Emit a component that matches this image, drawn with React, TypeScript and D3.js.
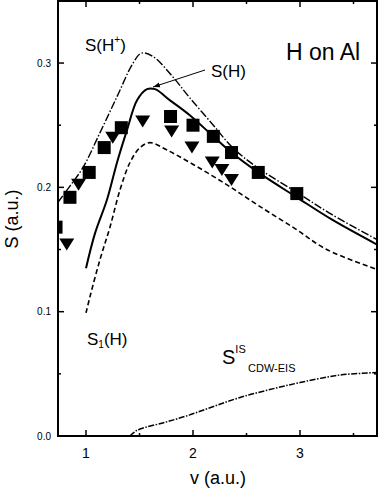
import React from "react";
import * as d3 from "d3";

// Curves (v in a.u., S in a.u.)
const sHplusV = [0.738, 0.85, 0.972, 1.131, 1.29, 1.44, 1.52, 1.63, 1.81, 1.97, 2.19, 2.37, 2.6, 2.97, 3.3, 3.72];
const sHplusS = [0.188, 0.201, 0.216, 0.244, 0.273, 0.3, 0.308, 0.305, 0.289, 0.272, 0.25, 0.232, 0.216, 0.196, 0.178, 0.158];

const sHV = [1.0, 1.084, 1.196, 1.29, 1.383, 1.477, 1.57, 1.645, 1.785, 1.97, 2.19, 2.36, 2.61, 2.97, 3.3, 3.72];
const sHS = [0.135, 0.163, 0.19, 0.22, 0.246, 0.27, 0.279, 0.279, 0.27, 0.258, 0.241, 0.228, 0.212, 0.192, 0.174, 0.154];

const s1V = [1.0, 1.037, 1.131, 1.224, 1.318, 1.411, 1.505, 1.598, 1.757, 1.97, 2.3, 2.6, 2.95, 3.25, 3.72];
const s1S = [0.099, 0.112, 0.142, 0.168, 0.198, 0.22, 0.232, 0.236, 0.23, 0.22, 0.203, 0.186, 0.167, 0.15, 0.134];

const sIsV = [1.411, 1.449, 1.505, 1.738, 1.97, 2.2, 2.44, 2.7, 3.0, 3.37, 3.72];
const sIsS = [0.0, 0.003, 0.0056, 0.011, 0.017, 0.024, 0.031, 0.037, 0.043, 0.049, 0.051];

// Experimental points
const squareV = [0.72, 0.85, 1.03, 1.17, 1.33, 1.79, 2.0, 2.19, 2.36, 2.61, 2.97];
const squareS = [0.168, 0.192, 0.212, 0.232, 0.248, 0.257, 0.25, 0.241, 0.228, 0.212, 0.195];

const triV = [0.82, 0.93, 1.25, 1.53, 1.8, 1.99, 2.18, 2.27, 2.36];
const triS = [0.154, 0.202, 0.24, 0.253, 0.245, 0.232, 0.22, 0.214, 0.206];

const xMajor = [1, 2, 3];
const xMinor = [1.5, 2.5, 3.5];
const yMajor = [0.0, 0.1, 0.2, 0.3];
const yMinor = [0.05, 0.15, 0.25];

const W = 380;
const H = 490;
const L = 58, R = 377, T = 1, B = 436;

export default function App() {
  const x = d3.scaleLinear().domain([0.7383, 3.7196]).range([L, R]);
  const y = d3.scaleLinear().domain([0, 0.3499]).range([B, T]);
  const line = d3
    .line<[number, number]>()
    .x((d) => x(d[0]))
    .y((d) => y(d[1]))
    .curve(d3.curveCatmullRom.alpha(0.5));
  const pts = (vs: number[], ss: number[]) => vs.map((v, i) => [v, ss[i]] as [number, number]);
  const font = "Liberation Sans, Arial, Helvetica, sans-serif";

  const sq = 13;
  const tw = 15, th = 12;

  return (
    <svg width={W} height={H} style={{ position: "absolute", left: 0, top: 0, background: "#fff" }} fontFamily={font}>
      <defs>
        <clipPath id="plot">
          <rect x={L} y={T} width={R - L} height={B - T} />
        </clipPath>
        <marker id="arr" viewBox="0 0 10 10" refX="10" refY="5" markerWidth="7" markerHeight="7" orient="auto">
          <path d="M0,1.5 L10,5 L0,8.5 z" fill="#000" />
        </marker>
      </defs>
      <rect x={0} y={0} width={W} height={H} fill="#fff" />
      <g clipPath="url(#plot)" fill="none" stroke="#000">
        <path d={line(pts(sHplusV, sHplusS)) || ""} strokeWidth={1.4} strokeDasharray="8,2,1.5,2" />
        <path d={line(pts(sHV, sHS)) || ""} strokeWidth={2} />
        <path d={line(pts(s1V, s1S)) || ""} strokeWidth={1.6} strokeDasharray="5,3" />
        <path d={line(pts(sIsV, sIsS)) || ""} strokeWidth={1.5} strokeDasharray="6,1.5,1.5,1.5" />
        {squareV.map((v, i) => (
          <rect key={"s" + i} x={x(v) - sq / 2} y={y(squareS[i]) - sq / 2} width={sq} height={sq} fill="#000" stroke="none" />
        ))}
        {triV.map((v, i) => {
          const cx = x(v), cy = y(triS[i]);
          return (
            <path key={"t" + i} d={`M${cx - tw / 2},${cy - th / 2} L${cx + tw / 2},${cy - th / 2} L${cx},${cy + th / 2} Z`} fill="#000" stroke="none" />
          );
        })}
      </g>
      {/* frame */}
      <rect x={L} y={T} width={R - L} height={B - T} fill="none" stroke="#000" strokeWidth={2} />
      {/* ticks */}
      <g stroke="#000" strokeWidth={1.5}>
        {xMajor.map((v) => (
          <g key={"xm" + v}>
            <line x1={x(v)} x2={x(v)} y1={B} y2={B - 6} />
            <line x1={x(v)} x2={x(v)} y1={T} y2={T + 6} />
          </g>
        ))}
        {xMinor.map((v) => (
          <g key={"xn" + v}>
            <line x1={x(v)} x2={x(v)} y1={B} y2={B - 3} />
            <line x1={x(v)} x2={x(v)} y1={T} y2={T + 3} />
          </g>
        ))}
        {yMajor.map((v) => (
          <g key={"ym" + v}>
            <line x1={L} x2={L + 6} y1={y(v)} y2={y(v)} />
            <line x1={R} x2={R - 6} y1={y(v)} y2={y(v)} />
          </g>
        ))}
        {yMinor.map((v) => (
          <g key={"yn" + v}>
            <line x1={L} x2={L + 3} y1={y(v)} y2={y(v)} />
            <line x1={R} x2={R - 3} y1={y(v)} y2={y(v)} />
          </g>
        ))}
      </g>
      {/* tick labels */}
      <g fontSize={10} textAnchor="end" fill="#000">
        {yMajor.map((v) => (
          <text key={"yl" + v} x={L - 7} y={y(v) + 3.5}>{d3.format(".1f")(v)}</text>
        ))}
      </g>
      <g fontSize={14} textAnchor="middle" fill="#000">
        {xMajor.map((v) => (
          <text key={"xl" + v} x={x(v)} y={B + 22}>{v}</text>
        ))}
      </g>
      {/* axis titles */}
      <text x={218} y={484} fontSize={18} textAnchor="middle">v (a.u.)</text>
      <text transform="translate(18,219) rotate(-90)" fontSize={18} textAnchor="middle">S (a.u.)</text>
      {/* annotations */}
      <text x={85} y={51} fontSize={17}>S(H<tspan fontSize={10} dy={-8}>+</tspan><tspan dy={8}>)</tspan></text>
      <text x={211} y={77} fontSize={17}>S(H)</text>
      <line x1={205} y1={70} x2={153} y2={87} stroke="#000" strokeWidth={1} markerEnd="url(#arr)" />
      <text x={286} y={60} fontSize={23}>H on Al</text>
      <text x={87} y={345} fontSize={17}>S<tspan fontSize={10} dy={3}>1</tspan><tspan dy={-3}>(H)</tspan></text>
      <text x={222} y={364} fontSize={20}>S<tspan fontSize={11} dy={-11}>IS</tspan></text>
      <text x={248} y={372} fontSize={11}>CDW-EIS</text>
    </svg>
  );
}
